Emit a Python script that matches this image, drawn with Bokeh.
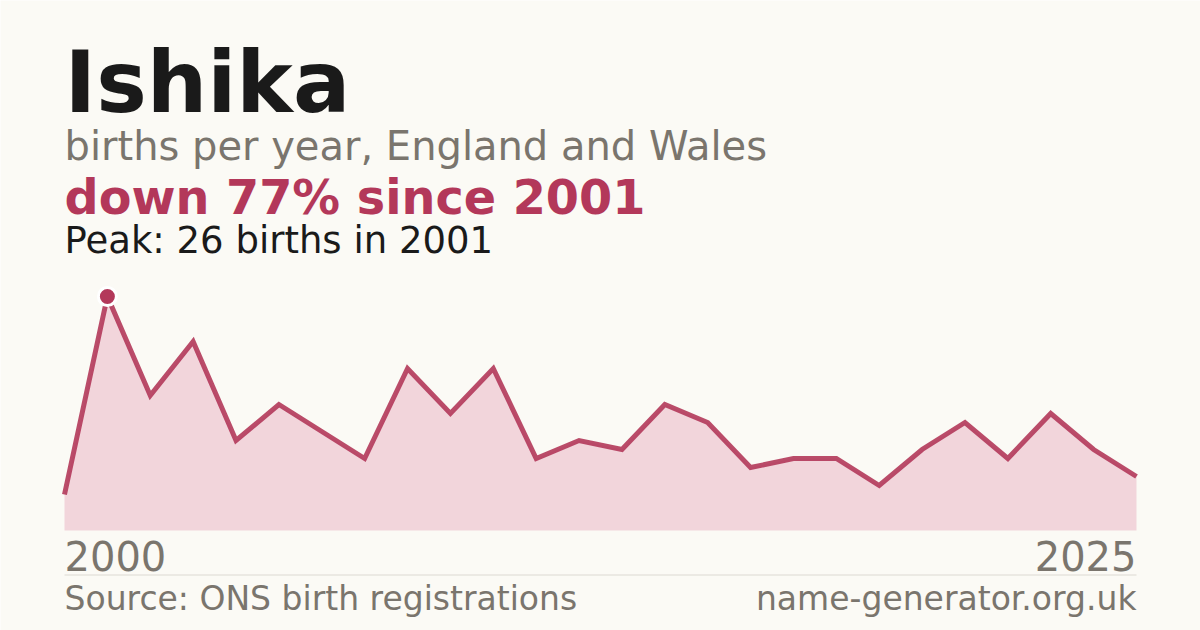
from bokeh.plotting import figure
from bokeh.embed import file_html
from bokeh.resources import INLINE
from bokeh.core.properties import value
from bokeh.models import ColumnDataSource, Range1d

years = list(range(2000, 2026))
births = [4, 26, 15, 21, 10, 14, 11, 8, 18, 13, 18, 8, 10, 9, 14, 12, 7, 8, 8, 5, 9, 12, 8, 13, 9, 6]

name = "Ishika"
subtitle = "births per year, England and Wales"
change_text = "down 77% since 2001"
peak_text = "Peak: 26 births in 2001"
source_text = "Source: ONS birth registrations"
site_text = "name-generator.org.uk"

BG = "#fbfaf5"
RED = "#b3385a"
FILL = "#f2d5db"
GREY = "#7a756d"
DARK = "#1a1a1a"
FONT = "DejaVu Sans"

W, H = 1200, 630
x_left_px, x_right_px = 64, 1136
ppx = (x_right_px - x_left_px) / (years[-1] - years[0])
x0 = years[0] - x_left_px / ppx
x1 = x0 + W / ppx
base_px = 530
ppy = 9.0
y0 = -(H - base_px) / ppy
y1 = y0 + H / ppy

def X(px):
    return x0 + px / ppx

def Y(py):
    return y0 + (H - py) / ppy

p = figure(width=W, height=H, output_backend="svg", toolbar_location=None,
           x_range=Range1d(x0, x1), y_range=Range1d(y0, y1), min_border=0)
p.axis.visible = False
p.grid.visible = False
p.outline_line_color = None
p.background_fill_color = BG
p.border_fill_color = BG

src = ColumnDataSource(dict(x=years, y=births, base=[0] * len(years)))
p.varea(x="x", y1="base", y2="y", source=src, fill_color=FILL, fill_alpha=1.0)
p.line(x="x", y="y", source=src, line_color=RED, line_width=5, line_alpha=0.9,
       line_join="miter")

peak_i = births.index(max(births))
p.scatter([years[peak_i]], [births[peak_i]], size=18, fill_color=RED,
          line_color="white", line_width=3)

def txt(px, py, s, size, color, bold=False, align="left"):
    # empirical shift so the glyph baseline lands at py
    p.text([X(px)], [Y(py - 0.37 * size)], text=[s], text_font=value(FONT),
           text_font_size=f"{size}px", text_color=color,
           text_font_style="bold" if bold else "normal",
           text_align=align, text_baseline="alphabetic")

txt(64, 113, name, 85, DARK, bold=True)
txt(64, 160, subtitle, 40, GREY)
txt(64, 215, change_text, 47.7, RED, bold=True)
txt(64, 254, peak_text, 37, DARK)
txt(64, 570, str(years[0]), 40, GREY)
txt(1136, 570, str(years[-1]), 40, GREY, align="right")
txt(64, 610, source_text, 33, GREY)
txt(1136, 610, site_text, 33, GREY, align="right")

p.segment([X(64)], [Y(574.5)], [X(1136)], [Y(574.5)], line_color="#dcd9d2", line_width=1)

html = file_html(p, INLINE)
open("out.html", "w").write(html)
